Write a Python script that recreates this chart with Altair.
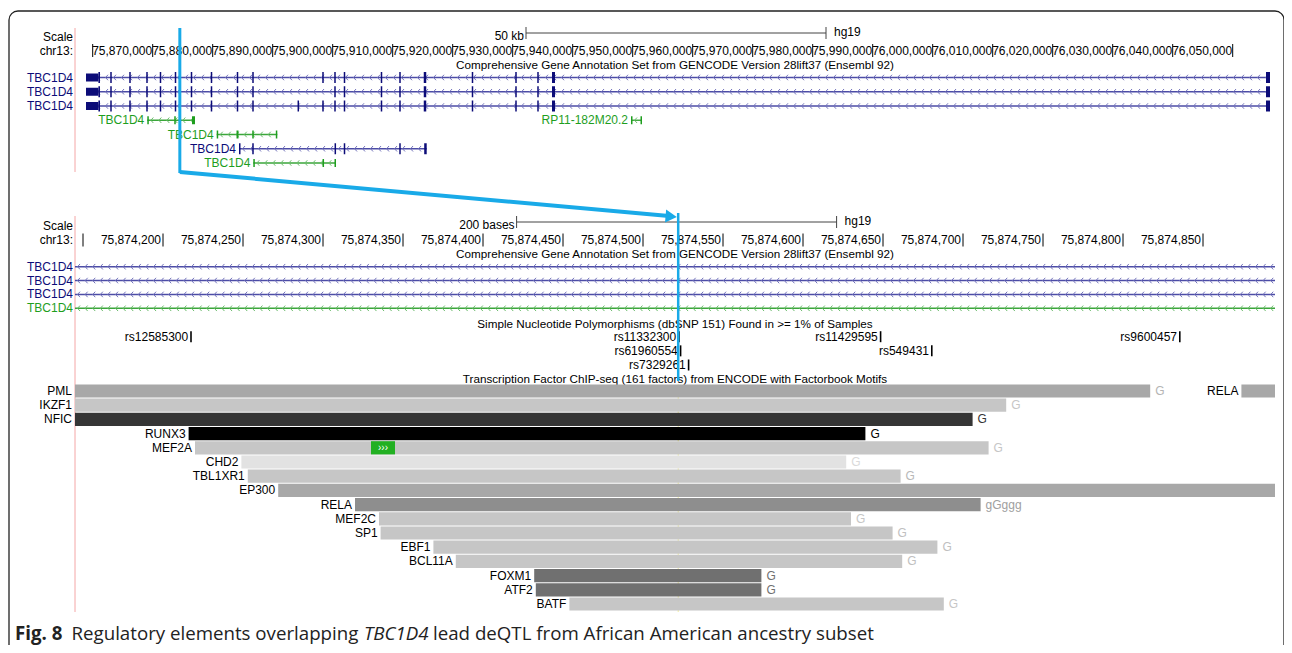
import altair as alt
import numpy as np
import pandas as pd

FONT = "Liberation Sans"
NAVY = "#0c0c78"
NAVY_LINE = "#4c4ca6"
NAVY_CHEV = "#7474bc"
GREEN = "#1e9e1e"
GREEN_LINE = "#3aa63a"
GREEN_CHEV = "#6cbc6c"
BLUE = "#19aae8"

# ---------------- values ----------------
TOP_WINDOW = [75857050, 76057050]      # chr13 (hg19), 50-kb view
BOT_WINDOW = [75874145, 75874895]      # chr13 (hg19), 200-base view

TOP_TICKS = [75860000, 75870000, 75880000, 75890000, 75900000, 75910000, 75920000,
             75930000, 75940000, 75950000, 75960000, 75970000, 75980000, 75990000,
             76000000, 76010000, 76020000, 76030000, 76040000, 76050000]
TOP_TICK_LABELS = ["", "75,870,000", "75,880,000", "75,890,000", "75,900,000", "75,910,000",
                   "75,920,000", "75,930,000", "75,940,000", "75,950,000", "75,960,000",
                   "75,970,000", "75,980,000", "75,990,000", "76,000,000", "76,010,000",
                   "76,020,000", "76,030,000", "76,040,000", "76,050,000"]
BOT_TICKS = [75874150, 75874200, 75874250, 75874300, 75874350, 75874400, 75874450, 75874500,
             75874550, 75874600, 75874650, 75874700, 75874750, 75874800, 75874850]
BOT_TICK_LABELS = ["", "75,874,200", "75,874,250", "75,874,300", "75,874,350", "75,874,400",
                   "75,874,450", "75,874,500", "75,874,550", "75,874,600", "75,874,650",
                   "75,874,700", "75,874,750", "75,874,800", "75,874,850"]
TOP_SCALEBAR = [75932217, 75982217]    # 50 kb
BOT_SCALEBAR = [75874421, 75874621]    # 200 bases

# transcripts in the 50-kb view
TOP_TX_NAMES = ["TBC1D4", "TBC1D4", "TBC1D4", "TBC1D4", "RP11-182M20.2", "TBC1D4", "TBC1D4", "TBC1D4"]
TOP_TX_ROWS = [0, 1, 2, 3, 3, 4, 5, 6]
TOP_TX_CODING = [True, True, True, False, False, False, True, False]
TOP_TX_START = [75858883, 75858883, 75858883, 75869100, 75949717, 75880667, 75884383, 75886767]
TOP_TX_END = [76056217, 76056217, 76056217, 75877050, 75951550, 75890767, 75915667, 75900550]

MAIN_UTR = [75858883, 75860950]
MAIN_EXONS = [(75860950, 75861217), (75862925, 75863175), (75866092, 75866342), (75868925, 75869175),
              (75871175, 75871425), (75873675, 75873925), (75876342, 75876592), (75879675, 75879925),
              (75884008, 75884258), (75886592, 75886842), (75898258, 75898508), (75900258, 75900508),
              (75901842, 75902092), (75908008, 75908258), (75911092, 75911342), (75915175, 75915592),
              (75923175, 75923425), (75930425, 75930675), (75934092, 75934342), (75936550, 75937050),
              (76055550, 76056217)]
TX1_MISSING_EXON = (75898258, 75898508)
TX2_EXTRA_EXON = (75894142, 75894392)
TX3_EXONS = [(75869100, 75869350), (75873592, 75873842), (75876550, 75877050)]
RP11_EXONS = [(75949717, 75949967), (75951300, 75951550)]
TX4_EXONS = [(75880667, 75880917), (75883967, 75884300), (75886592, 75886842), (75890517, 75890767)]
TX5_EXONS = [(75884383, 75884633), (75886592, 75886842), (75900308, 75900558), (75901842, 75902092),
             (75911092, 75911342), (75915250, 75915667)]
TX6_EXONS = [(75886767, 75887017), (75898308, 75898558), (75900300, 75900550)]

# transcripts in the 200-base view (intronic there)
BOT_TX_NAMES = ["TBC1D4", "TBC1D4", "TBC1D4", "TBC1D4"]
BOT_TX_CODING = [True, True, True, False]

# dbSNP 151 common variants
SNP_NAMES = ["rs12585300", "rs11332300", "rs11429595", "rs9600457", "rs61960554", "rs549431", "rs7329261"]
SNP_POS = [75874217, 75874522, 75874648, 75874835, 75874523, 75874680, 75874528]
SNP_ROWS = [0, 0, 0, 0, 1, 1, 2]
LEAD_SNP = 75874522

# ENCODE TF ChIP-seq clusters
TF_NAMES = ["PML", "RELA", "IKZF1", "NFIC", "RUNX3", "MEF2A", "CHD2", "TBL1XR1", "EP300", "RELA",
            "MEF2C", "SP1", "EBF1", "BCL11A", "FOXM1", "ATF2", "BATF"]
TF_ROWS = [0, 0, 1, 2, 3, 4, 5, 6, 7, 8, 9, 10, 11, 12, 13, 14, 15]
TF_START = [75874145, 75874874, 75874145, 75874145, 75874216, 75874220, 75874249, 75874253, 75874272,
            75874320, 75874335, 75874336, 75874369, 75874383, 75874432, 75874433, 75874454]
TF_END = [75874817, 75874895, 75874727, 75874706, 75874639, 75874716, 75874627, 75874661, 75874895,
          75874711, 75874630, 75874656, 75874684, 75874662, 75874574, 75874574, 75874688]
TF_SHADE = ["#a8a8a8", "#a8a8a8", "#c6c6c6", "#353535", "#000000", "#c6c6c6", "#e2e2e2", "#c6c6c6",
            "#a8a8a8", "#8e8e8e", "#c6c6c6", "#c6c6c6", "#c6c6c6", "#c6c6c6", "#707070", "#707070",
            "#c6c6c6"]
TF_MOTIF_TEXT = ["G", "", "G", "G", "G", "G", "G", "G", "", "gGggg", "G", "G", "G", "G", "G", "G", "G"]
TF_MOTIF_COLOR = ["#b4b4b4", "#b4b4b4", "#c6c6c6", "#353535", "#000000", "#c6c6c6", "#dadada", "#b8b8b8",
                  "#a8a8a8", "#a0a0a0", "#c6c6c6", "#c0c0c0", "#c0c0c0", "#c0c0c0", "#707070", "#707070",
                  "#c6c6c6"]
MEF2A_MOTIF = [75874330, 75874345]

CAPTION_PARTS = ["Fig. 8", "Regulatory elements overlapping", "TBC1D4",
                 "lead deQTL from African American ancestry subset"]

# ---------------- layout (chart pixel space) ----------------
W, H = 1276, 637
PX0, PX1 = 67, 1267
XC = (PX0 + PX1) / 2


def xs(win):
    return alt.Scale(domain=win, range=[PX0, PX1], zero=False, nice=False)


def ys(n, top, bottom):
    return alt.Scale(domain=[0, n], range=[top, bottom], zero=False, nice=False)


XT, XB = xs(TOP_WINDOW), xs(BOT_WINDOW)
Y_TOPGENES = ys(6, 69.5, 155)
Y_BOTGENES = ys(3, 258.7, 300.3)
Y_SNP = ys(2, 328.7, 357)
Y_TF = ys(15, 383, 596)
TOP_ROW_PX = (155 - 69.5) / 6
TF_ROW_PX = (596 - 383) / 15
SNP_ROW_PX = (357 - 328.7) / 2


def X(field, sc):
    return alt.X(field, scale=sc, axis=None)


def Y(field, sc):
    return alt.Y(field, scale=sc, axis=None)


def one():
    return alt.Data(values=[{"k": 1}])


def text(txt, x, y, align="left", size=12, color="black", **kw):
    return alt.Chart(one()).mark_text(text=txt, align=align, baseline="middle", font=FONT,
                                      fontSize=size, color=color, **kw).encode(
        x=alt.value(x), y=alt.value(y))


layers = []

# frame
layers.append(alt.Chart(one()).mark_rect(fillOpacity=0, stroke="#222222", strokeWidth=1.3,
                                         cornerRadius=9).encode(
    x=alt.value(1), x2=alt.value(1276), y=alt.value(3), y2=alt.value(700)))

# pink panel edges
for (a, b) in [(20, 164), (208, 604)]:
    layers.append(alt.Chart(one()).mark_rule(color="#f4a6a6", strokeWidth=1).encode(
        x=alt.value(PX0), y=alt.value(a), y2=alt.value(b)))

# ---------- header blocks (rulers, scale bars, titles) ----------
def header(xsc, ticks, labels, bar, bar_label, y_scale, y_ruler, y_title, label_dx):
    out = []
    out.append(text("Scale", 65, y_scale + 1.5, align="right"))
    out.append(text("chr13:", 65, y_ruler, align="right"))
    rdf = pd.DataFrame({"pos": ticks, "label": labels})
    out.append(alt.Chart(rdf).mark_rule(color="black").encode(
        x=X("pos:Q", xsc), y=alt.value(y_ruler - 6.5), y2=alt.value(y_ruler + 6.5)))
    out.append(alt.Chart(rdf).mark_text(align="right", baseline="middle", font=FONT, fontSize=12,
                                        dx=label_dx).encode(
        x=X("pos:Q", xsc), y=alt.value(y_ruler), text="label:N"))
    bdf = pd.DataFrame({"start": [bar[0]], "end": [bar[1]]})
    out.append(alt.Chart(bdf).mark_rule(color="#444444").encode(
        x=X("start:Q", xsc), x2="end:Q", y=alt.value(y_scale - 2)))
    edf = pd.DataFrame({"pos": bar})
    out.append(alt.Chart(edf).mark_rule(color="#444444").encode(
        x=X("pos:Q", xsc), y=alt.value(y_scale - 8), y2=alt.value(y_scale + 4)))
    out.append(alt.Chart(bdf).mark_text(text=bar_label, align="right", baseline="middle", font=FONT,
                                        fontSize=12, dx=-2).encode(
        x=X("start:Q", xsc), y=alt.value(y_scale + 0.5)))
    out.append(alt.Chart(bdf).mark_text(text="hg19", align="left", baseline="middle", font=FONT,
                                        fontSize=12, dx=8).encode(
        x=X("end:Q", xsc), y=alt.value(y_scale - 3)))
    out.append(text("Comprehensive Gene Annotation Set from GENCODE Version 28lift37 (Ensembl 92)",
                    XC, y_title, align="center", size=11.7))
    return out


layers += header(XT, TOP_TICKS, TOP_TICK_LABELS, TOP_SCALEBAR, "50 kb", 27, 42.5, 57, -0.5)
layers += header(XB, BOT_TICKS, BOT_TICK_LABELS, BOT_SCALEBAR, "200 bases", 216, 232, 246, -2)
layers.append(text("Simple Nucleotide Polymorphisms (dbSNP 151) Found in >= 1% of Samples", XC, 316,
                   align="center", size=11.7))
layers.append(text("Transcription Factor ChIP-seq (161 factors) from ENCODE with Factorbook Motifs",
                   XC, 370.5, align="center", size=11.7))

# ---------- top gene track ----------
main_tx1 = [e for e in MAIN_EXONS if e != TX1_MISSING_EXON]
main_tx2 = sorted(MAIN_EXONS + [TX2_EXTRA_EXON])
tx_exons = [MAIN_EXONS, main_tx1, main_tx2, TX3_EXONS, RP11_EXONS, TX4_EXONS, TX5_EXONS, TX6_EXONS]

tx_df = pd.DataFrame({"name": TOP_TX_NAMES, "row": TOP_TX_ROWS, "start": TOP_TX_START,
                      "end": TOP_TX_END,
                      "line": [NAVY_LINE if c else GREEN_LINE for c in TOP_TX_CODING],
                      "col": [NAVY if c else GREEN for c in TOP_TX_CODING]})
ex_rows, chev_rows = [], []
step_top = 8 / (PX1 - PX0) * (TOP_WINDOW[1] - TOP_WINDOW[0])
for i, ex in enumerate(tx_exons):
    coding = TOP_TX_CODING[i]
    row = TOP_TX_ROWS[i]
    h = (11 if coding else 8) / 2 / TOP_ROW_PX
    for s, e in ex:
        ex_rows.append({"y": row - h, "y2": row + h, "start": s, "end": e, "col": NAVY if coding else GREEN})
    if i < 3:
        hu = 8 / 2 / TOP_ROW_PX
        ex_rows.append({"y": row - hu, "y2": row + hu, "start": MAIN_UTR[0], "end": MAIN_UTR[1], "col": NAVY})
    for p in np.arange(TOP_TX_START[i] + step_top * 0.6, TOP_TX_END[i] - step_top * 0.3, step_top):
        chev_rows.append({"pos": p, "row": row, "col": NAVY_CHEV if coding else GREEN_CHEV})
ex_df = pd.DataFrame(ex_rows)
chev_df = pd.DataFrame(chev_rows)

CHEV = "M0.45,-1L-0.45,0L0.45,1"
layers.append(alt.Chart(tx_df).mark_rule(strokeWidth=1.4).encode(
    x=X("start:Q", XT), x2="end:Q", y=Y("row:Q", Y_TOPGENES), color=alt.Color("line:N", scale=None)))
layers.append(alt.Chart(chev_df).mark_point(shape=CHEV, size=30, filled=False, strokeWidth=1, opacity=1).encode(
    x=X("pos:Q", XT), y=Y("row:Q", Y_TOPGENES), color=alt.Color("col:N", scale=None)))
layers.append(alt.Chart(ex_df).mark_rect().encode(
    x=X("start:Q", XT), x2="end:Q", y=Y("y:Q", Y_TOPGENES), y2="y2:Q", color=alt.Color("col:N", scale=None)))
layers.append(alt.Chart(tx_df[tx_df["row"] <= 2]).mark_text(align="right", baseline="middle", font=FONT,
                                                            fontSize=12).encode(
    x=alt.value(65), y=Y("row:Q", Y_TOPGENES), text="name:N", color=alt.Color("col:N", scale=None)))
layers.append(alt.Chart(tx_df[tx_df["row"] >= 3]).mark_text(align="right", baseline="middle", font=FONT,
                                                            fontSize=12, dx=-3).encode(
    x=X("start:Q", XT), y=Y("row:Q", Y_TOPGENES), text="name:N", color=alt.Color("col:N", scale=None)))

# ---------- bottom gene track ----------
btx = pd.DataFrame({"name": BOT_TX_NAMES, "row": list(range(len(BOT_TX_NAMES))),
                    "start": BOT_WINDOW[0], "end": BOT_WINDOW[1],
                    "line": [NAVY_LINE if c else GREEN_LINE for c in BOT_TX_CODING],
                    "col": [NAVY if c else GREEN for c in BOT_TX_CODING]})
step_bot = 7.6 / (PX1 - PX0) * (BOT_WINDOW[1] - BOT_WINDOW[0])
bchev = []
for r, c in enumerate(BOT_TX_CODING):
    for p in np.arange(BOT_WINDOW[0] + step_bot * 0.5, BOT_WINDOW[1], step_bot):
        bchev.append({"pos": p, "row": r, "col": NAVY_CHEV if c else GREEN_CHEV})
bchev_df = pd.DataFrame(bchev)
layers.append(alt.Chart(btx).mark_rule(strokeWidth=1.4).encode(
    x=X("start:Q", XB), x2="end:Q", y=Y("row:Q", Y_BOTGENES), color=alt.Color("line:N", scale=None)))
layers.append(alt.Chart(bchev_df).mark_point(shape=CHEV, size=30, filled=False, strokeWidth=1, opacity=1).encode(
    x=X("pos:Q", XB), y=Y("row:Q", Y_BOTGENES), color=alt.Color("col:N", scale=None)))
layers.append(alt.Chart(btx).mark_text(align="right", baseline="middle", font=FONT, fontSize=12).encode(
    x=alt.value(65), y=Y("row:Q", Y_BOTGENES), text="name:N", color=alt.Color("col:N", scale=None)))

# ---------- SNP track ----------
snp = pd.DataFrame({"name": SNP_NAMES, "pos": SNP_POS, "row": SNP_ROWS})
snp["end"] = snp["pos"] + 1
hs = 5.5 / SNP_ROW_PX
snp["y"] = snp["row"] - hs
snp["y2"] = snp["row"] + hs
layers.append(alt.Chart(snp).mark_rect(color="black").encode(
    x=X("pos:Q", XB), x2="end:Q", y=Y("y:Q", Y_SNP), y2="y2:Q"))
layers.append(alt.Chart(snp).mark_text(align="right", baseline="middle", font=FONT, fontSize=12, dx=-2).encode(
    x=X("pos:Q", XB), y=Y("row:Q", Y_SNP), text="name:N"))

# ---------- TF ChIP-seq track ----------
tf = pd.DataFrame({"name": TF_NAMES, "row": TF_ROWS, "start": TF_START, "end": TF_END,
                   "shade": TF_SHADE, "motif": TF_MOTIF_TEXT, "mcol": TF_MOTIF_COLOR})
ht = 6.6 / TF_ROW_PX
tf["y"] = tf["row"] - ht
tf["y2"] = tf["row"] + ht
lead = pd.DataFrame({"pos": [LEAD_SNP]})
layers.append(alt.Chart(lead).mark_rule(color="#f2eea0", strokeWidth=1).encode(
    x=X("pos:Q", XB), y=alt.value(376), y2=alt.value(604)))
layers.append(alt.Chart(tf).mark_rect().encode(
    x=X("start:Q", XB), x2="end:Q", y=Y("y:Q", Y_TF), y2="y2:Q", color=alt.Color("shade:N", scale=None)))
layers.append(alt.Chart(tf).mark_text(align="right", baseline="middle", font=FONT, fontSize=12, dx=-3).encode(
    x=X("start:Q", XB), y=Y("row:Q", Y_TF), text="name:N"))
layers.append(alt.Chart(tf).mark_text(align="left", baseline="middle", font=FONT, fontSize=12, dx=5).encode(
    x=X("end:Q", XB), y=Y("row:Q", Y_TF), text="motif:N", color=alt.Color("mcol:N", scale=None)))
mot = pd.DataFrame({"start": [MEF2A_MOTIF[0]], "end": [MEF2A_MOTIF[1]], "row": [4]})
mot["y"] = mot["row"] - ht
mot["y2"] = mot["row"] + ht
mot["mid"] = (mot["start"] + mot["end"]) / 2
layers.append(alt.Chart(mot).mark_rect(color="#22b022").encode(
    x=X("start:Q", XB), x2="end:Q", y=Y("y:Q", Y_TF), y2="y2:Q"))
layers.append(alt.Chart(mot).mark_text(text="›››", color="white", font=FONT, fontSize=10,
                                       baseline="middle", align="center").encode(
    x=X("mid:Q", XB), y=Y("row:Q", Y_TF)))

# ---------- blue annotation arrow (lead deQTL position in both views) ----------
def to_px(g, win):
    return PX0 + (g - win[0]) / (win[1] - win[0]) * (PX1 - PX0)


xt = to_px(LEAD_SNP, TOP_WINDOW)
xb = to_px(LEAD_SNP, BOT_WINDOW)
layers.append(alt.Chart(lead).mark_rule(color=BLUE, strokeWidth=3).encode(
    x=X("pos:Q", XT), y=alt.value(20), y2=alt.value(165)))
layers.append(alt.Chart(lead).mark_rule(color=BLUE, strokeWidth=2.5).encode(
    x=X("pos:Q", XB), y=alt.value(205), y2=alt.value(373)))
diag = pd.DataFrame({"x": [xt, xb - 12], "y": [164, 207.8]})
layers.append(alt.Chart(diag).mark_line(color=BLUE, strokeWidth=4, strokeCap="butt").encode(
    x=alt.X("x:Q", scale=None), y=alt.Y("y:Q", scale=None)))
head = pd.DataFrame({"x": [xb - 7], "y": [208.4]})
layers.append(alt.Chart(head).mark_point(shape="triangle-right", size=170, filled=True, color=BLUE,
                                         opacity=1, angle=5).encode(
    x=alt.X("x:Q", scale=None), y=alt.Y("y:Q", scale=None)))

# ---------- caption (baseline kept inside the canvas) ----------
CAP_FONT = "Open Sans"
CAP_SIZE = 18.7
CAP_Y = 631.5
CAP_X = [7, 63.5, 356, 425]
CAP_STYLE = [{"fontWeight": "bold"}, {}, {"fontStyle": "italic"}, {}]
for part, cx, st in zip(CAPTION_PARTS, CAP_X, CAP_STYLE):
    layers.append(alt.Chart(one()).mark_text(text=part, font=CAP_FONT, fontSize=CAP_SIZE, align="left",
                                             baseline="alphabetic", color="#222", **st).encode(
        x=alt.value(cx), y=alt.value(CAP_Y)))

chart = alt.layer(*layers).resolve_scale(x="independent", y="independent").properties(
    width=W, height=H, autosize=alt.AutoSizeParams(type="none"), padding=0, background="white"
).configure_view(stroke=None)

chart.save("out.html", embed_options={"renderer": "svg", "actions": False})
